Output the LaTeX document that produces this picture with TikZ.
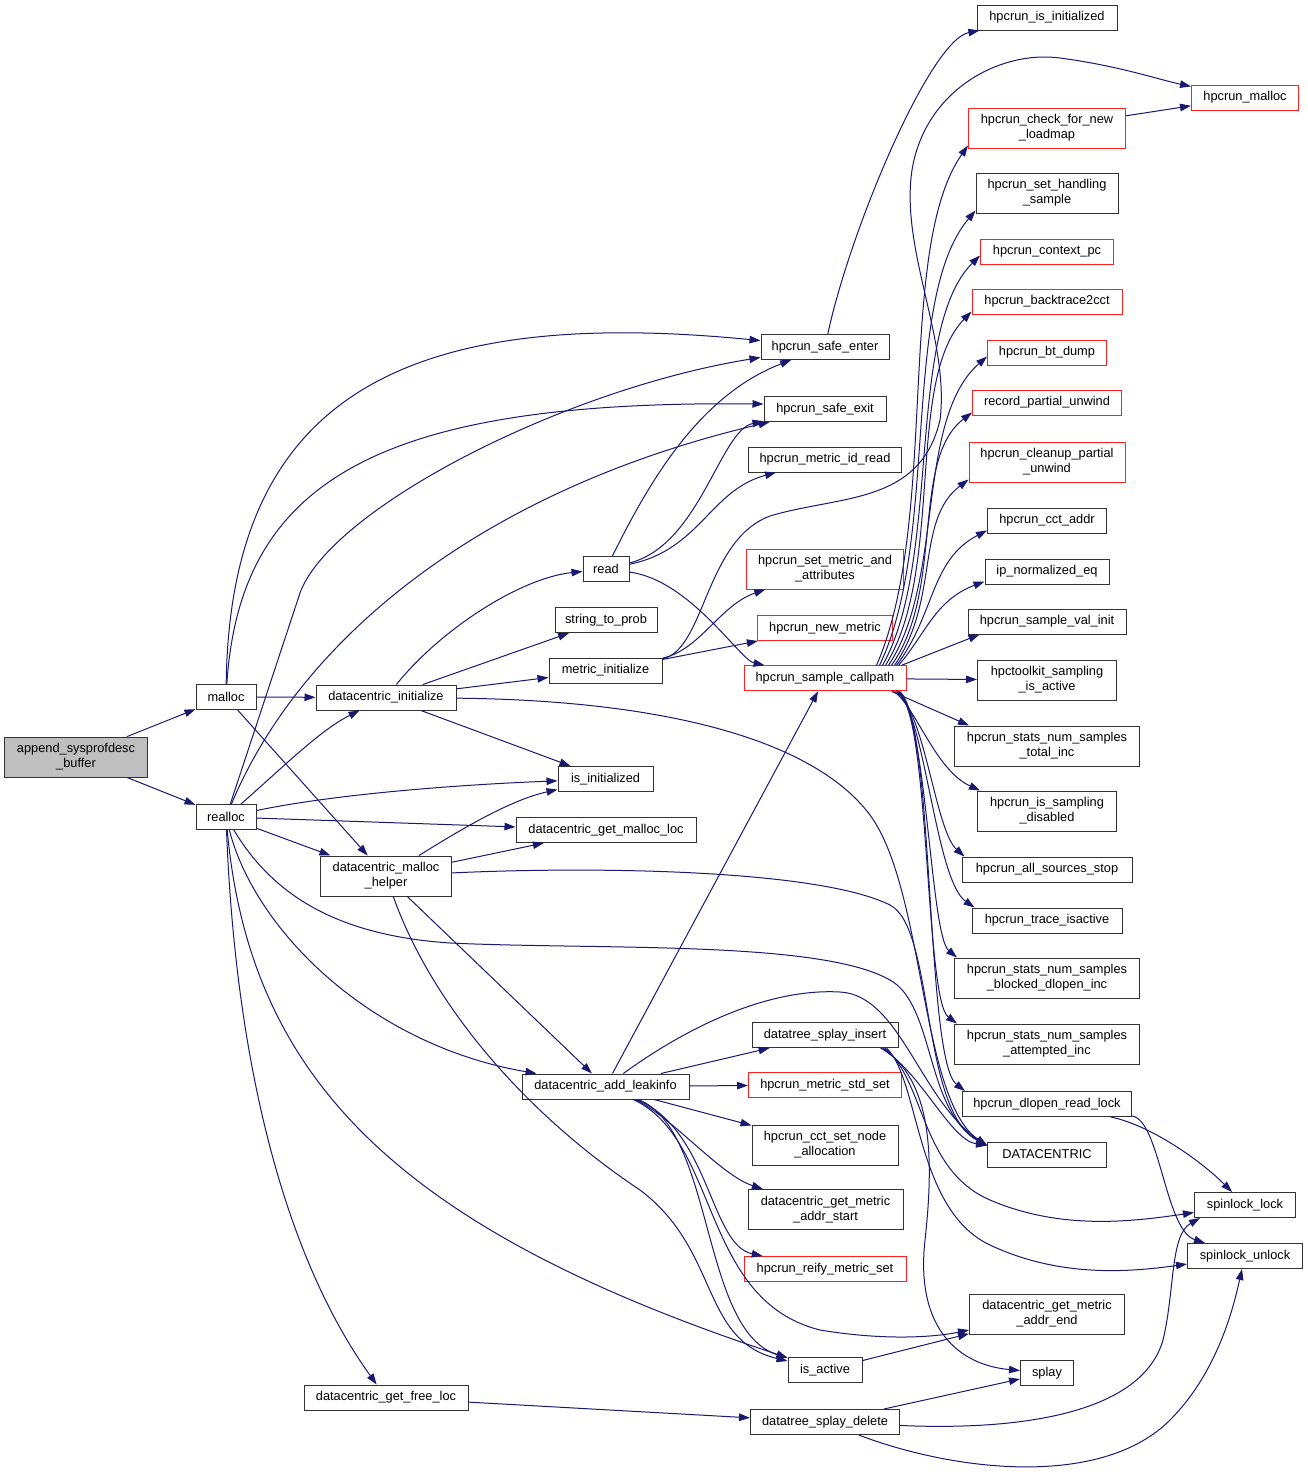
\documentclass[tikz,border=0pt]{standalone}
\usepackage{fontspec}
\setmainfont{Liberation Sans}
\usetikzlibrary{arrows.meta}
\definecolor{eb}{HTML}{191970}
\definecolor{gb}{HTML}{BFBFBF}
\definecolor{rb}{HTML}{FF2020}
\begin{document}
\begin{tikzpicture}[x=1pt,y=-1pt,
 box/.style={draw=black!80, line width=1pt, fill=white, inner sep=0pt, align=center, font=\fontsize{12.8}{15}\selectfont},
 rbox/.style={box, draw=rb},
 e/.style={draw=eb, line width=1pt, -{Triangle[length=11pt,width=7.5pt]}},
]
\path[use as bounding box, fill=white] (0,0) rectangle (1308,1475);
% column 1
\node[box,fill=gb,minimum width=143pt,minimum height=40pt] (append) at (76,757) {append\_sysprofdesc\\\_buffer};
\node[box,minimum width=60pt,minimum height=25pt] (malloc) at (226,697) {malloc};
\node[box,minimum width=60pt,minimum height=25pt] (realloc) at (226,817) {realloc};
\node[box,minimum width=140pt,minimum height=25pt] (dinit) at (386,697.5) {datacentric\_initialize};
\node[box,minimum width=131pt,minimum height=40pt] (helper) at (386,876) {datacentric\_malloc\\\_helper};
\node[box,minimum width=164pt,minimum height=25pt] (gfl) at (386,1397.5) {datacentric\_get\_free\_loc};
\node[box,minimum width=46pt,minimum height=25pt] (read) at (606,569) {read};
\node[box,minimum width=102pt,minimum height=25pt] (stp) at (606,620) {string\_to\_prob};
\node[box,minimum width=113pt,minimum height=25pt] (mi) at (605.5,670.5) {metric\_initialize};
\node[box,minimum width=95pt,minimum height=25pt] (isinit) at (605.5,779) {is\_initialized};
\node[box,minimum width=180pt,minimum height=25pt] (gml) at (606,830) {datacentric\_get\_malloc\_loc};
\node[box,minimum width=167pt,minimum height=25pt] (leak) at (605.5,1086.5) {datacentric\_add\_leakinfo};
% middle column
\node[box,minimum width=128pt,minimum height=25pt] (se) at (825,347) {hpcrun\_safe\_enter};
\node[box,minimum width=122pt,minimum height=25pt] (sx) at (825,409) {hpcrun\_safe\_exit};
\node[box,minimum width=153pt,minimum height=25pt] (mir) at (825,459.5) {hpcrun\_metric\_id\_read};
\node[rbox,minimum width=157pt,minimum height=40pt] (smaa) at (825,569) {hpcrun\_set\_metric\_and\\\_attributes};
\node[rbox,minimum width=135pt,minimum height=25pt] (nm) at (825,628) {hpcrun\_new\_metric};
\node[rbox,minimum width=162pt,minimum height=25pt] (scp) at (825,678.3) {hpcrun\_sample\_callpath};
\node[box,minimum width=146pt,minimum height=25pt] (si) at (825,1035) {datatree\_splay\_insert};
\node[rbox,minimum width=153pt,minimum height=25pt] (mss) at (825,1085) {hpcrun\_metric\_std\_set};
\node[box,minimum width=146pt,minimum height=40pt] (cct) at (825,1145) {hpcrun\_cct\_set\_node\\\_allocation};
\node[box,minimum width=155pt,minimum height=40pt] (das) at (825.5,1209.5) {datacentric\_get\_metric\\\_addr\_start};
\node[rbox,minimum width=162pt,minimum height=25pt] (reify) at (825,1269) {hpcrun\_reify\_metric\_set};
\node[box,minimum width=74pt,minimum height=25pt] (ia) at (825,1370) {is\_active};
\node[box,minimum width=149pt,minimum height=25pt] (sd) at (825,1422) {datatree\_splay\_delete};
% right column
\node[box,minimum width=140pt,minimum height=25pt] (hii) at (1047,17.5) {hpcrun\_is\_initialized};
\node[rbox,minimum width=107pt,minimum height=25pt] (hm) at (1245,97.5) {hpcrun\_malloc};
\node[rbox,minimum width=157pt,minimum height=40pt] (cfnl) at (1047,128) {hpcrun\_check\_for\_new\\\_loadmap};
\node[box,minimum width=142pt,minimum height=40pt] (shs) at (1047,193) {hpcrun\_set\_handling\\\_sample};
\node[rbox,minimum width=133pt,minimum height=25pt] (cpc) at (1047,251.5) {hpcrun\_context\_pc};
\node[rbox,minimum width=150pt,minimum height=25pt] (bt2) at (1047,301.5) {hpcrun\_backtrace2cct};
\node[rbox,minimum width=119pt,minimum height=25pt] (btd) at (1047,352.5) {hpcrun\_bt\_dump};
\node[rbox,minimum width=149pt,minimum height=25pt] (rpu) at (1047,402.5) {record\_partial\_unwind};
\node[rbox,minimum width=156pt,minimum height=40pt] (cpu) at (1047,462) {hpcrun\_cleanup\_partial\\\_unwind};
\node[box,minimum width=119pt,minimum height=25pt] (cca) at (1047,520.5) {hpcrun\_cct\_addr};
\node[box,minimum width=124pt,minimum height=25pt] (ipn) at (1047,571.5) {ip\_normalized\_eq};
\node[box,minimum width=158pt,minimum height=25pt] (svi) at (1047,621.5) {hpcrun\_sample\_val\_init};
\node[box,minimum width=139pt,minimum height=40pt] (hsa) at (1047,680) {hpctoolkit\_sampling\\\_is\_active};
\node[box,minimum width=185pt,minimum height=40pt] (sst) at (1047,746) {hpcrun\_stats\_num\_samples\\\_total\_inc};
\node[box,minimum width=139pt,minimum height=40pt] (isd) at (1047,811) {hpcrun\_is\_sampling\\\_disabled};
\node[box,minimum width=170pt,minimum height=25pt] (ass) at (1047,869.5) {hpcrun\_all\_sources\_stop};
\node[box,minimum width=150pt,minimum height=25pt] (tia) at (1047,920.5) {hpcrun\_trace\_isactive};
\node[box,minimum width=185pt,minimum height=40pt] (bdi) at (1047,978) {hpcrun\_stats\_num\_samples\\\_blocked\_dlopen\_inc};
\node[box,minimum width=185pt,minimum height=40pt] (ati) at (1047,1044) {hpcrun\_stats\_num\_samples\\\_attempted\_inc};
\node[box,minimum width=169pt,minimum height=25pt] (drl) at (1047,1104) {hpcrun\_dlopen\_read\_lock};
\node[box,minimum width=119pt,minimum height=25pt] (dc) at (1047,1154.5) {DATACENTRIC};
\node[box,minimum width=155pt,minimum height=40pt] (dae) at (1047,1314) {datacentric\_get\_metric\\\_addr\_end};
\node[box,minimum width=53pt,minimum height=25pt] (splay) at (1047,1373) {splay};
\node[box,minimum width=101pt,minimum height=25pt] (sl) at (1245,1205) {spinlock\_lock};
\node[box,minimum width=115pt,minimum height=25pt] (su) at (1245,1256) {spinlock\_unlock};
% edges: append
\draw[e] (append) -- (malloc);
\draw[e] (append) -- (realloc);
% malloc
\draw[e] (malloc) -- (dinit);
\draw[e] (malloc) -- (helper);
\draw[e] (malloc) .. controls (230,400) and (400,305) .. (se);
\draw[e] (malloc) .. controls (240,480) and (380,400) .. ([yshift=5pt]sx.west);
% realloc
\draw[e] (realloc) -- (300,593) .. controls (330,510) and (560,390) .. (se);
\draw[e] (realloc) .. controls (300,640) and (480,490) .. (sx);
\draw[e] (realloc) .. controls (280,770) and (320,730) .. (dinit);
\draw[e] (realloc) .. controls (330,795) and (450,785) .. (isinit);
\draw[e] (realloc) -- (gml);
\draw[e] (realloc) -- (helper);
\draw[e] (realloc) .. controls (255,930) and (370,1045) .. ([xshift=15pt]leak.north west);
\draw[e] (realloc) .. controls (235,1050) and (280,1250) .. (gfl);
\draw[e] (realloc) .. controls (250,1080) and (400,1230) .. (ia);
\draw[e] (realloc) .. controls (270,890) and (330,935) .. (450,943) .. controls (600,950) and (820,940) .. (890,980) .. controls (935,1005) and (925,1110) .. ([yshift=-4pt]dc.north west);
% datacentric_initialize
\draw[e] (dinit) .. controls (440,630) and (520,578) .. (read);
\draw[e] (dinit) -- (stp);
\draw[e] (dinit) -- (mi);
\draw[e] (dinit) -- (isinit);
\draw[e] (dinit) .. controls (650,700) and (810,735) .. (870,815) .. controls (925,890) and (920,1100) .. ([yshift=-4pt]dc.north west);
% malloc helper
\draw[e] (helper) .. controls (460,830) and (510,800) .. (isinit);
\draw[e] (helper) -- (gml);
\draw[e] (helper) -- (leak);
\draw[e] (helper) .. controls (430,1000) and (520,1110) .. (640,1190) .. controls (720,1250) and (700,1340) .. (ia);
\draw[e] (helper) .. controls (600,866) and (820,870) .. (890,905) .. controls (935,928) and (920,1110) .. ([yshift=-4pt]dc.north west);
% read
\draw[e] (read) .. controls (650,480) and (700,395) .. (se);
\draw[e] (read) .. controls (700,545) and (720,430) .. (sx);
\draw[e] (read) .. controls (700,550) and (710,490) .. (mir);
\draw[e] (read) .. controls (690,580) and (740,660) .. (scp);
% metric_initialize
\draw[e] (mi) .. controls (700,650) and (720,605) .. (smaa);
\draw[e] (mi) -- (nm);
\draw[e] (mi) .. controls (705,650) and (705,540) .. (770,516) .. controls (840,495) and (920,505) .. (940,420) .. controls (950,340) and (900,250) .. (912,170) .. controls (925,90) and (1000,50) .. (1060,58) .. controls (1120,66) and (1160,80) .. (hm);
% add_leakinfo
\draw[e] (leak) -- (scp);
\draw[e] (leak) -- (si);
\draw[e] (leak) -- (mss);
\draw[e] (leak) -- (cct);
\draw[e] (leak) .. controls (670,1115) and (720,1175) .. (das);
\draw[e] (leak) .. controls (710,1130) and (710,1245) .. (reify);
\draw[e] (leak) .. controls (720,1140) and (700,1300) .. (820,1330) .. controls (880,1340) and (930,1338) .. (dae);
\draw[e] (leak) .. controls (715,1130) and (700,1330) .. (ia);
\draw[e] (leak) .. controls (690,1025) and (770,988) .. (840,992) .. controls (900,995) and (920,1100) .. ([yshift=-4pt]dc.north west);
% misc
\draw[e] (ia) -- (dae);
\draw[e] (gfl) -- (sd);
\draw[e] (sd) -- (splay);
\draw[e] (sd) .. controls (1000,1430) and (1140,1420) .. (1163,1340) .. controls (1175,1290) and (1170,1235) .. ([xshift=6pt]sl.south west);
\draw[e] (sd) .. controls (950,1470) and (1100,1490) .. (1170,1420) .. controls (1220,1370) and (1235,1300) .. (su);
\draw[e] ([xshift=-18pt]si.south east) .. controls (920,1070) and (950,1140) .. ([yshift=-4pt]dc.north west);
\draw[e] ([xshift=-16pt]si.south east) .. controls (930,1080) and (935,1150) .. (925,1240) .. controls (915,1330) and (960,1365) .. (splay);
\draw[e] ([xshift=-14pt]si.south east) .. controls (925,1080) and (920,1170) .. (990,1200) .. controls (1060,1230) and (1130,1222) .. (sl);
\draw[e] ([xshift=-12pt]si.south east) .. controls (920,1080) and (915,1210) .. (990,1245) .. controls (1060,1278) and (1130,1272) .. (su);
\draw[e] (drl) .. controls (1150,1125) and (1200,1160) .. (sl);
\draw[e] (drl) .. controls (1160,1120) and (1165,1230) .. (su);
\draw[e] (cfnl) -- (hm);
\draw[e] (se) .. controls (850,230) and (930,40) .. (hii);
% sample_callpath upper
\draw[e] ([xshift=-30pt]scp.north east) .. controls (940,520) and (895,250) .. ([yshift=3pt]cfnl.south west);
\draw[e] ([xshift=-27pt]scp.north east) .. controls (940,540) and (900,300) .. ([yshift=3pt]shs.south west);
\draw[e] ([xshift=-24pt]scp.north east) .. controls (942,560) and (905,330) .. ([yshift=-4pt]cpc.west);
\draw[e] ([xshift=-21pt]scp.north east) .. controls (945,570) and (905,380) .. ([yshift=3pt]bt2.south west);
\draw[e] ([xshift=-18pt]scp.north east) .. controls (945,580) and (915,420) .. ([yshift=-4pt]btd.west);
\draw[e] ([xshift=-15pt]scp.north east) .. controls (945,590) and (910,460) .. ([yshift=3pt]rpu.south west);
\draw[e] ([xshift=-12pt]scp.north east) .. controls (940,600) and (915,520) .. ([yshift=3pt]cpu.south west);
\draw[e] ([xshift=-10pt]scp.north east) .. controls (935,615) and (930,560) .. ([yshift=3pt]cca.south west);
\draw[e] ([xshift=-8pt]scp.north east) .. controls (925,635) and (935,600) .. ([yshift=3pt]ipn.south west);
\draw[e] ([xshift=-5pt]scp.north east) -- ([xshift=12pt]svi.south west);
\draw[e] (scp) -- (hsa);
% sample_callpath lower
\draw[e] ([xshift=-15pt]scp.south east) -- ([xshift=15pt]sst.north west);
\draw[e] ([xshift=-13pt]scp.south east) .. controls (915,705) and (935,770) .. ([xshift=3pt]isd.north west);
\draw[e] ([xshift=-11pt]scp.south east) .. controls (925,710) and (935,830) .. ([xshift=3pt]ass.north west);
\draw[e] ([xshift=-10pt]scp.south east) .. controls (925,710) and (935,880) .. ([xshift=3pt]tia.north west);
\draw[e] ([xshift=-9pt]scp.south east) .. controls (927,712) and (930,935) .. ([xshift=3pt]bdi.north west);
\draw[e] ([xshift=-8pt]scp.south east) .. controls (930,715) and (925,1000) .. ([xshift=3pt]ati.north west);
\draw[e] ([xshift=-7pt]scp.south east) .. controls (935,720) and (925,1060) .. ([xshift=3pt]drl.north west);
\end{tikzpicture}
\end{document}
